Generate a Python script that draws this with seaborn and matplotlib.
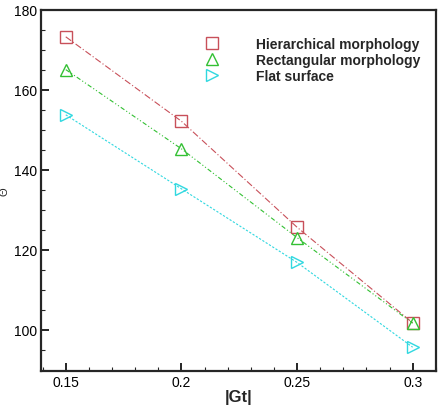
import numpy as np
import pandas as pd
import matplotlib
matplotlib.use('Agg')
import matplotlib.pyplot as plt
import seaborn as sns
from matplotlib.ticker import MultipleLocator

sns.set_style('ticks')
plt.rcParams['font.family'] = ['Liberation Sans', 'DejaVu Sans']
plt.rcParams['xtick.direction'] = 'in'
plt.rcParams['ytick.direction'] = 'in'

gt = [0.15, 0.2, 0.25, 0.3]
hier = [173.3, 152.2, 125.7, 101.8]
rect = [165.1, 145.3, 123.1, 101.7]
flat = [153.8, 135.3, 116.9, 95.7]

names = ['Hierarchical morphology', 'Rectangular morphology', 'Flat surface']
df = pd.DataFrame({
    'Gt': gt * 3,
    'theta': hier + rect + flat,
    'case': [names[0]] * 4 + [names[1]] * 4 + [names[2]] * 4,
})

colors = ['#c8505a', '#33c033', '#30d8e0']
markers = ['s', '^', '>']
dashes = [(6, 2, 1, 2), (4, 2, 1, 2, 1, 2), (2, 1.5)]

fig = plt.figure(figsize=(4.41, 4.06), dpi=100)
ax = fig.add_axes([41 / 441, 1 - 372 / 406, 395 / 441, 361 / 406])

for i, n in enumerate(names):
    sub = df[df.case == n]
    sns.lineplot(data=sub, x='Gt', y='theta', ax=ax, color=colors[i],
                 marker=markers[i], markersize=9, markerfacecolor='none',
                 markeredgecolor=colors[i], markeredgewidth=1.0,
                 linewidth=0.8, dashes=False, label=n)
    ax.lines[-1].set_dashes(dashes[i])

ax.set_xlim(0.1393, 0.3101)
ax.set_ylim(89.75, 180)
ax.xaxis.set_major_locator(MultipleLocator(0.05))
ax.xaxis.set_minor_locator(MultipleLocator(0.01))
ax.yaxis.set_major_locator(MultipleLocator(20))
ax.yaxis.set_minor_locator(MultipleLocator(5))
ax.set_xticks([0.15, 0.2, 0.25, 0.3])
ax.set_xticklabels(['0.15', '0.2', '0.25', '0.3'])
ax.tick_params(which='major', length=6, width=1.2, labelsize=10, colors='black')
ax.tick_params(which='minor', length=3, width=0.8)
ax.tick_params(axis='x', pad=3)
ax.tick_params(axis='y', pad=3)
for s in ax.spines.values():
    s.set_linewidth(1.6)

ax.set_xlabel('|Gt|', fontsize=12, fontweight='bold', labelpad=0)
ax.set_ylabel('Θ', fontsize=8, labelpad=3)

leg = ax.legend(loc='upper left', bbox_to_anchor=(0.40, 0.96), frameon=False,
                prop={'weight': 'bold', 'size': 10}, handlelength=0,
                handletextpad=3.2, labelspacing=0.15, markerscale=0.9)
for h in leg.legend_handles:
    h.set_linestyle('none')

fig.savefig('out.png', dpi=100)
